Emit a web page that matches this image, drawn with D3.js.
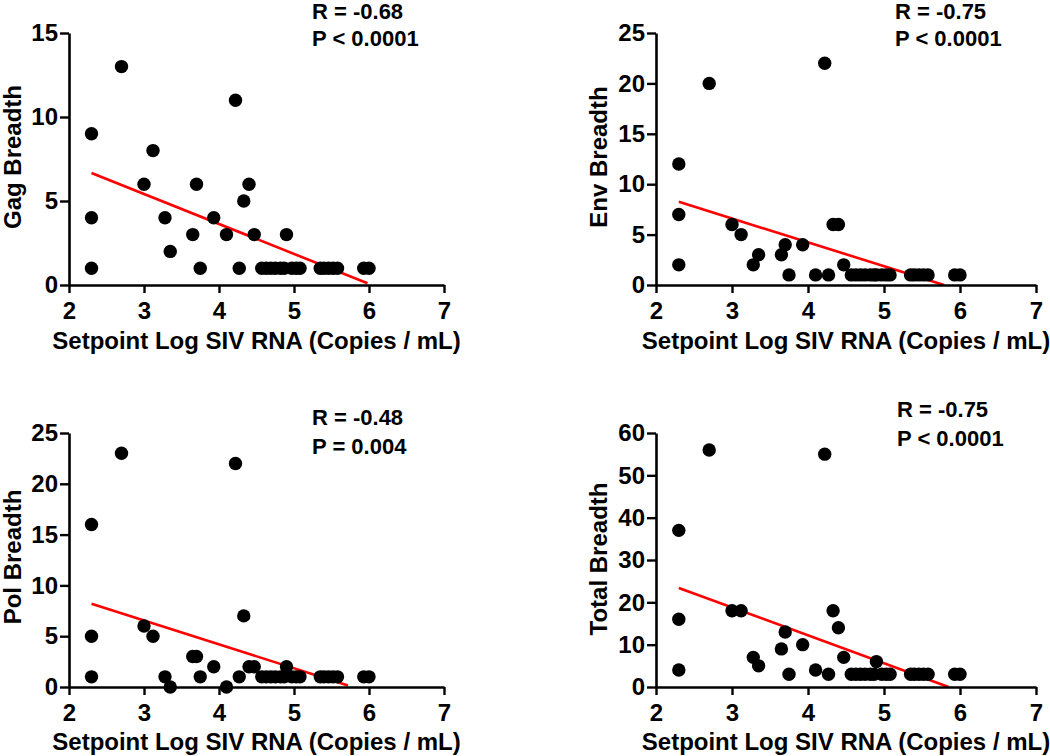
<!DOCTYPE html>
<html>
<head>
<meta charset="utf-8">
<script src="https://cdn.jsdelivr.net/npm/d3@7"></script>
<style>
  html, body { margin: 0; padding: 0; background: #fff; }
  svg { display: block; }
  text { font-family: "Liberation Sans", Arial, sans-serif; font-weight: bold; fill: #000; }
</style>
</head>
<body>
<svg id="chart" width="1050" height="756"></svg>
<script>
// ---- Data ----
const setpointVL = [2.30, 2.30, 2.30, 2.70, 3.00, 3.12, 3.28, 3.35, 3.65, 3.70, 3.75, 3.93, 4.10, 4.22, 4.27, 4.33, 4.40, 4.47, 4.90,
                    4.57, 4.63, 4.69, 4.75, 4.82, 4.87, 4.97, 5.03, 5.08, 5.35, 5.40, 5.46, 5.52, 5.58, 5.93, 6.00];
const gagBreadth   = [9, 4, 1, 13, 6, 8, 4, 2, 3, 6, 1, 4, 3, 11, 1, 5, 6, 3, 3,  1,1,1,1,1,1,1,1,1,1,1,1,1,1,1,1];
const envBreadth   = [12, 7, 2, 20, 6, 5, 2, 3, 3, 4, 1, 4, 1, 22, 1, 6, 6, 2, 1, 1,1,1,1,1,1,1,1,1,1,1,1,1,1,1,1];
const polBreadth   = [16, 5, 1, 23, 6, 5, 1, 0, 3, 3, 1, 2, 0, 22, 1, 7, 2, 2, 2, 1,1,1,1,1,1,1,1,1,1,1,1,1,1,1,1];
const totalBreadth = [37, 16, 4, 56, 18, 18, 7, 5, 9, 13, 3, 10, 4, 55, 3, 18, 14, 7, 6, 3,3,3,3,3,3,3,3,3,3,3,3,3,3,3,3];

// regression line endpoints [x1, y1, x2, y2]
const gagFit   = [2.30, 6.67, 5.98, 0.10];
const envFit   = [2.30, 8.25, 5.79, 0.00];
const polFit   = [2.30, 8.20, 5.72, 0.15];
const totalFit = [2.30, 23.4, 5.85, 0.00];

const yTitles = ["Gag Breadth", "Env Breadth", "Pol Breadth", "Total Breadth"];
const yMax = [15, 25, 25, 60];
const yTickStep = [5, 5, 5, 10];
const xTicks = [2, 3, 4, 5, 6, 7];
const rLabels = ["R = -0.68", "R = -0.75", "R = -0.48", "R = -0.75"];
const pLabels = ["P < 0.0001", "P < 0.0001", "P = 0.004", "P < 0.0001"];
const xTitle = "Setpoint Log SIV RNA (Copies / mL)";

// ---- Layout ----
const panels = [
  { vals: gagBreadth,   fit: gagFit,   x0: 69,  x1: 444,  y0: 285, y1: 33,  ytx: 21,  yty: 157, xtb: 349, rx: 312, rb: 19,  pb: 46 },
  { vals: envBreadth,   fit: envFit,   x0: 656, x1: 1036, y0: 285, y1: 33,  ytx: 607, yty: 157, xtb: 349, rx: 895, rb: 19,  pb: 46 },
  { vals: polBreadth,   fit: polFit,   x0: 69,  x1: 444,  y0: 687, y1: 433, ytx: 21,  yty: 557, xtb: 750, rx: 312, rb: 425, pb: 454 },
  { vals: totalBreadth, fit: totalFit, x0: 656, x1: 1036, y0: 687, y1: 433, ytx: 607, yty: 559, xtb: 750, rx: 897, rb: 417, pb: 446 }
];

const svg = d3.select("#chart");

panels.forEach((p, i) => {
  const x = d3.scaleLinear().domain([2, 7]).range([p.x0, p.x1]);
  const y = d3.scaleLinear().domain([0, yMax[i]]).range([p.y0, p.y1]);
  const g = svg.append("g");

  // regression line
  g.append("line")
    .attr("x1", x(p.fit[0])).attr("y1", y(p.fit[1]))
    .attr("x2", x(p.fit[2])).attr("y2", y(p.fit[3]))
    .attr("stroke", "#ff0000").attr("stroke-width", 2.6);

  // points
  g.selectAll("circle").data(setpointVL.map((v, k) => [v, p.vals[k]]))
    .enter().append("circle")
    .attr("cx", d => x(d[0])).attr("cy", d => y(d[1]))
    .attr("r", 6.7).attr("fill", "#000");

  // axes
  const yAxis = d3.axisLeft(y).tickValues(d3.range(0, yMax[i] + 0.001, yTickStep[i]))
    .tickFormat(d3.format("d")).tickSize(9).tickPadding(2).tickSizeOuter(0);
  const xAxis = d3.axisBottom(x).tickValues(xTicks).tickFormat(d3.format("d"))
    .tickSize(8).tickPadding(9).tickSizeOuter(0);

  const ya = g.append("g").attr("transform", `translate(${p.x0},0)`).call(yAxis);
  const xa = g.append("g").attr("transform", `translate(0,${p.y0})`).call(xAxis);
  [ya, xa].forEach(a => {
    a.select(".domain").attr("stroke", "#000").attr("stroke-width", 2.6);
    a.selectAll(".tick line").attr("stroke", "#000").attr("stroke-width", 2.4);
    a.selectAll(".tick text").style("font-size", "24px").style("font-weight", "bold")
      .style("font-family", '"Liberation Sans", Arial, sans-serif').attr("fill", "#000");
  });

  // axis titles
  g.append("text")
    .attr("transform", `translate(${p.ytx},${p.yty}) rotate(-90)`)
    .attr("text-anchor", "middle").style("font-size", "24px")
    .text(yTitles[i]);
  g.append("text")
    .attr("x", (p.x0 + p.x1) / 2).attr("y", p.xtb)
    .attr("text-anchor", "middle").style("font-size", "24px")
    .text(xTitle);

  // stats
  g.append("text").attr("x", p.rx).attr("y", p.rb).style("font-size", "22px").text(rLabels[i]);
  g.append("text").attr("x", p.rx).attr("y", p.pb).style("font-size", "22px").text(pLabels[i]);
});
</script>
</body>
</html>
